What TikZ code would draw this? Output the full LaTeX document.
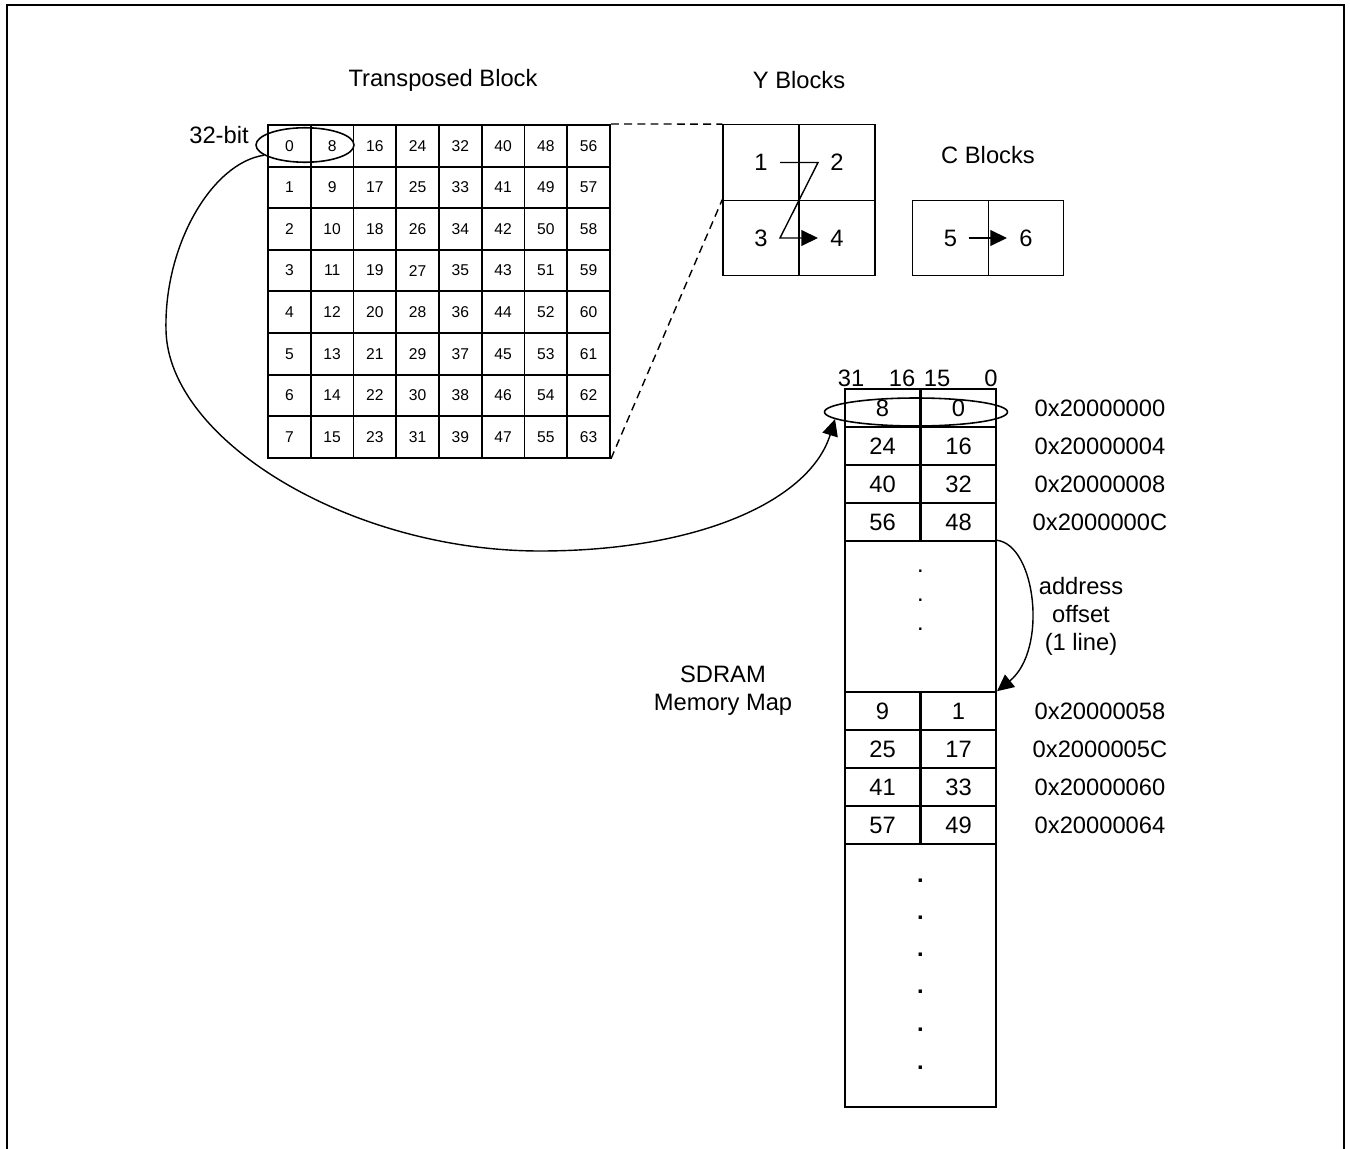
\documentclass[tikz,border=0pt]{standalone}
\usepackage{fontspec}
\setmainfont{Liberation Sans}
\usetikzlibrary{arrows.meta,shapes.geometric,calc}

\begin{document}
\begin{tikzpicture}[
  x=0.02cm, y=-0.02cm,
  font=\fontsize{13.5}{16}\selectfont,
  cell/.style={draw, line width=1.1pt, inner sep=0pt,
    minimum width=0.855cm, minimum height=0.832cm,
    font=\fontsize{8.9}{10}\selectfont},
  blk/.style={draw, line width=0.8pt, inner sep=0pt,
    minimum width=1.52cm, minimum height=1.51cm},
  word/.style={draw, line width=0.9pt, inner sep=0pt,
    minimum width=1.51cm, minimum height=0.76cm},
  span/.style={draw, line width=0.9pt, inner sep=0pt, minimum width=3.02cm},
  txt/.style={align=center, inner sep=0pt},
  ring/.style={draw, ellipse, line width=0.9pt, inner sep=0pt},
  link/.style={line width=0.8pt, -{Triangle[length=9.5pt,width=9pt]}},
  zoomline/.style={dash pattern=on 4.5pt off 3pt, line width=0.8pt}
]
\useasboundingbox (0,0) rectangle (1350,1149);
\draw[line width=1.1pt] (7,1149) -- (7,5) -- (1344,5) -- (1344,1149);

\node[txt] (title-t) at (443,80) {Transposed Block};
\node[txt] (title-y) at (799,80) {Y Blocks};
\node[txt] (title-c) at (988,155) {C Blocks};
\node[txt] (bits) at (219,135) {32-bit};

\foreach \c in {0,...,7}
  \foreach \r in {0,...,7}{
    \pgfmathtruncatemacro\val{8*\c+\r}
    \node[cell] (g-\c-\r) at ({289.4+42.75*\c},{145.8+41.6*\r}) {\val};
  }
\node[ring, minimum width=1.96cm, minimum height=0.69cm] (pair) at (305,145) {};

\node[blk] (y1) at (761,162.5) {1};
\node[blk] (y2) at (837,162.5) {2};
\node[blk] (y3) at (761,238) {3};
\node[blk] (y4) at (837,238) {4};
\node[blk, minimum width=1.51cm] (c5) at (950.5,238) {5};
\node[blk, minimum width=1.51cm] (c6) at (1026,238) {6};

\draw[zoomline] (g-7-0.north east) -- (y1.north west);
\draw[zoomline] (g-7-7.south east) -- (y3.north west);
\draw[link] ($(y1.center)+(19,0)$) -- ($(y2.center)+(-19,0)$)
  -- ($(y3.center)+(19,0)$) -- ($(y4.center)+(-19,0)$);
\draw[link] ($(c5.center)+(18,0)$) -- ($(c6.center)+(-19,0)$);

\node[txt] (b31) at (851,378) {31};
\node[txt] (b16) at (902,378) {16};
\node[txt] (b15) at (937,378) {15};
\node[txt] (b0) at (991,378) {0};

\foreach \i/\y/\hi/\lo/\addr in {0/408/8/0/0x20000000, 1/446/24/16/0x20000004,
    2/484/40/32/0x20000008, 3/522/56/48/0x2000000C, 4/711/9/1/0x20000058,
    5/749/25/17/0x2000005C, 6/787/41/33/0x20000060, 7/825/57/49/0x20000064}{
  \node[word] (m-\i-hi) at (882.5,\y) {\hi};
  \node[word] (m-\i-lo) at (958.5,\y) {\lo};
  \node[txt] (a-\i) at (1100,\y) {\addr};
}
\node[span, minimum height=3.02cm] (gap) at (920.5,616.5) {};
\node[span, minimum height=5.26cm] (tail) at (920.5,975.5) {};
\foreach \y in {571,600,629}
  \node[txt] at (920.5,\y) {.};
\foreach \y in {881,918,955,992,1030,1068}
  \node[txt, font=\fontsize{13.5}{16}\selectfont\bfseries] at (920.5,\y) {.};
\node[ring, minimum width=3.66cm, minimum height=0.56cm] (wordring) at (916,412) {};

\node[txt, font=\fontsize{13.5}{15.9}\selectfont] (offset) at (1081,616)
  {address\\offset\\(1 line)};
\node[txt, font=\fontsize{13.5}{15.9}\selectfont] (sdram) at (723,691)
  {SDRAM\\Memory Map};

\draw[link] (pair.194) .. controls (212,163) and (164,245) .. (166,330)
  .. controls (168,440) and (350,551) .. (540,551)
  .. controls (700,551) and (810,500) .. (wordring.185);
\draw[link] (gap.north east) .. controls (1036,545) and (1048,650)
  .. (m-4-lo.north east);
\end{tikzpicture}
\end{document}
